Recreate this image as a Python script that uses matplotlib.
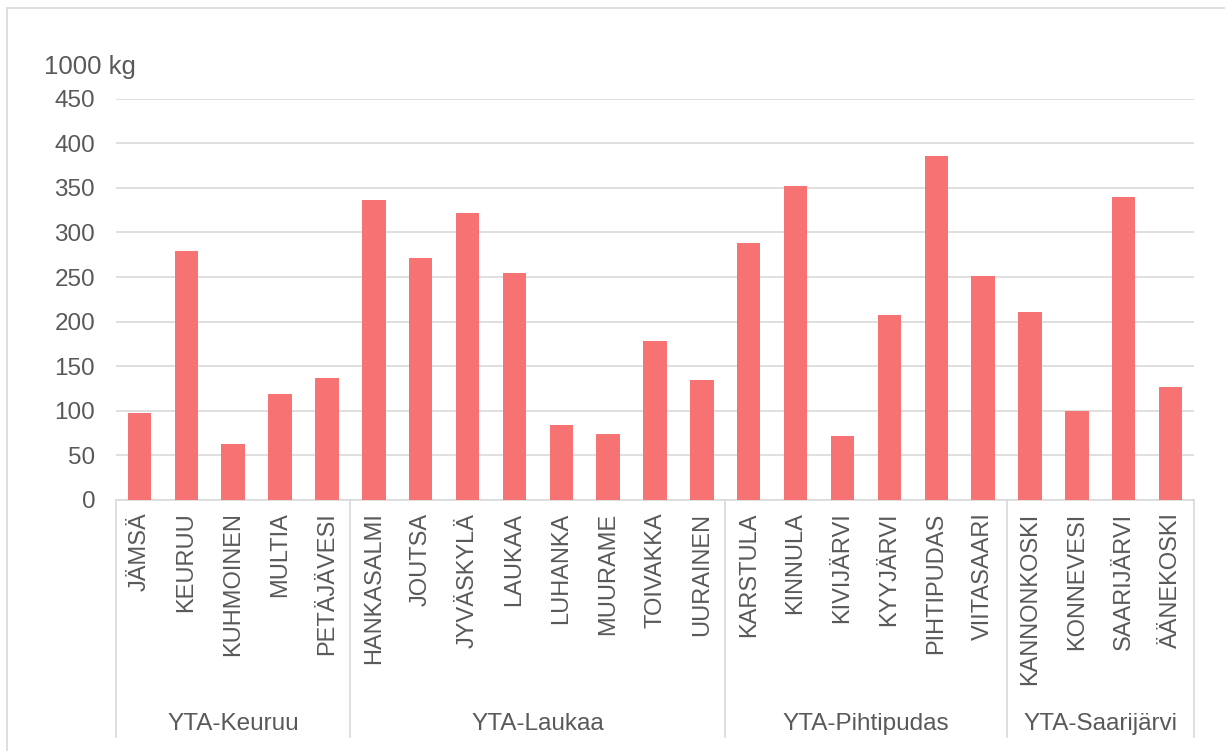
import matplotlib.pyplot as plt
from matplotlib.lines import Line2D

plt.rcParams['font.family'] = ['Liberation Sans', 'DejaVu Sans']

groups = ["YTA-Keuruu", "YTA-Laukaa", "YTA-Pihtipudas", "YTA-Saarijärvi"]
towns = [
    ["JÄMSÄ", "KEURUU", "KUHMOINEN", "MULTIA", "PETÄJÄVESI"],
    ["HANKASALMI", "JOUTSA", "JYVÄSKYLÄ", "LAUKAA", "LUHANKA", "MUURAME", "TOIVAKKA", "UURAINEN"],
    ["KARSTULA", "KINNULA", "KIVIJÄRVI", "KYYJÄRVI", "PIHTIPUDAS", "VIITASAARI"],
    ["KANNONKOSKI", "KONNEVESI", "SAARIJÄRVI", "ÄÄNEKOSKI"],
]
values = [
    [97, 279, 63, 119, 137],
    [336, 271, 322, 254, 84, 74, 178, 135],
    [288, 352, 72, 207, 386, 251],
    [211, 100, 340, 127],
]
yticks = [0, 50, 100, 150, 200, 250, 300, 350, 400, 450]

labels = [t for g in towns for t in g]
vals = [v for g in values for v in g]
x = list(range(len(labels)))

text_col = "#595959"
line_col = "#D9D9D9"

fig = plt.figure(figsize=(12.25, 7.51), dpi=100)
ax = fig.add_axes([116 / 1225, 1 - 500 / 751, (1194 - 116) / 1225, (500 - 98.7) / 751])

ax.bar(x, vals, width=0.5, color="#F77272", zorder=3)
ax.set_xlim(-0.5, len(labels) - 0.5)
ax.set_ylim(0, 450)
ax.set_yticks(yticks)
ax.grid(axis="y", color=line_col, lw=1.2, zorder=0)
for s in ["top", "right", "left"]:
    ax.spines[s].set_visible(False)
ax.spines["bottom"].set_color(line_col)
ax.spines["bottom"].set_linewidth(1.2)
ax.tick_params(axis="y", length=0, pad=15, labelsize=17.5, labelcolor=text_col)
ax.tick_params(axis="x", length=0, pad=9, labelsize=17, labelcolor=text_col)
ax.set_xticks(x)
ax.set_xticklabels(labels, rotation=90, va="top", ha="center")

fig.text(44 / 1225, 1 - 67 / 751, "1000 kg", ha="left", va="center",
         fontsize=18.5, color=text_col)

# group separators and group labels below the axis
trans = ax.get_xaxis_transform()
y_bottom = -(737 - 500) / (500 - 98.7)
start = 0
bounds = [-0.5]
for g, t in zip(groups, towns):
    end = start + len(t)
    bounds.append(end - 0.5)
    ax.text((start + end - 1) / 2, -(724 - 500) / (500 - 98.7), g, transform=trans,
            ha="center", va="center", fontsize=17.5, color=text_col)
    start = end
for b in bounds:
    ax.add_line(Line2D([b, b], [0, y_bottom], transform=trans, color=line_col,
                       lw=1.2, clip_on=False))

# chart area border (top and left visible)
fig.add_artist(Line2D([7 / 1225, 1], [1 - 7.5 / 751, 1 - 7.5 / 751], color=line_col, lw=1.2))
fig.add_artist(Line2D([7 / 1225, 7 / 1225], [0, 1 - 7.5 / 751], color=line_col, lw=1.2))

fig.savefig("out.png", dpi=100)
